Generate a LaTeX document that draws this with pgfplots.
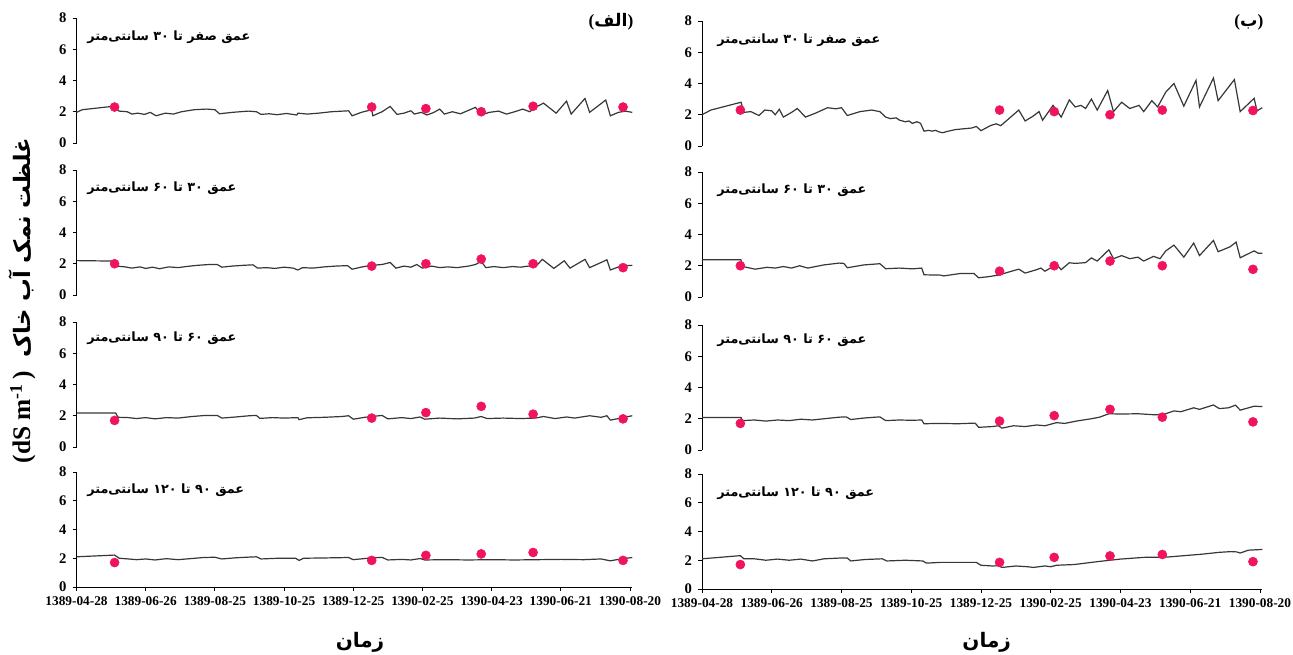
\documentclass[border=0pt]{standalone}
\usepackage{fontspec}
\setmainfont{Liberation Serif}
\newfontfamily\arabicfont[Script=Arabic]{DejaVu Sans}
\usepackage{pgfplots}
\pgfplotsset{compat=1.18}
\TeXXeTstate=1
\definecolor{simline}{RGB}{55,55,55}
\definecolor{obsdot}{RGB}{240,20,95}

\pgfplotsset{
  panel/.style={
    scale only axis,
    anchor=south west,
    xmin=0, xmax=482, ymin=0, ymax=8,
    ytick={0,2,4,6,8},
    axis y line*=left,
    tick align=outside,
    major tick length=3pt,
    every tick/.style={black, line width=0.6pt},
    axis line style={black, line width=0.7pt},
    /pgf/number format/assume math mode=true,
    yticklabel style={font=\bfseries\fontsize{11}{12}\selectfont, xshift=-1pt},
    clip=false,
  },
  toppanel/.style={
    panel,
    axis x line=none,
  },
  bottompanel/.style={
    panel,
    axis x line*=bottom,
    xtick={0,60,120,180,240,300,360,420,480},
    xticklabels={1389-04-28,1389-06-26,1389-08-25,1389-10-25,1389-12-25,1390-02-25,1390-04-23,1390-06-21,1390-08-20},
    xticklabel style={font=\bfseries\fontsize{10}{12}\selectfont, yshift=-1pt},
  },
  sim/.style={color=simline, line width=0.9pt, no marks},
  obs/.style={only marks, mark=*, mark size=3.4pt, color=obsdot, mark options={draw=obsdot, fill=obsdot}},
}

\begin{document}
\begin{tikzpicture}
\path[use as bounding box] (0pt,0pt) rectangle (969.75pt,491.25pt);

% ---------------- Left column (الف) ----------------
\begin{axis}[toppanel, at={(57.4pt,384pt)}, width=416.8pt, height=93.75pt]
\addplot[sim] coordinates {
(0,1.96)(5,2.13)(32,2.35)(37,2.04)(44,2.0)(48,1.85)(53,1.91)(59,1.83)(64,1.96)(69,1.74)
(77,1.91)(84,1.85)(91,2.0)(102,2.13)(113,2.17)(120,2.13)(124,1.87)(135,1.96)(149,2.04)(156,2.0)
(160,1.83)(167,1.87)(174,1.81)(182,1.89)(191,1.79)(192,1.91)(200,1.85)(210,1.91)(221,2.0)(236,2.06)
(239,1.74)(247,1.96)(256,2.13)(257,1.74)(265,2.0)(272,2.34)(278,1.83)(284,1.91)(290,2.06)(293,1.85)
(299,1.96)(304,1.79)(310,1.96)(315,2.17)(319,1.85)(326,2.0)(333,1.87)(339,2.06)(346,2.28)(351,1.79)
(358,1.96)(366,2.04)(373,1.85)(380,2.0)(387,2.17)(393,2.0)(398,2.28)(405,2.55)(416,1.91)(425,2.68)
(429,1.85)(441,2.85)(445,1.96)(459,2.75)(463,1.74)(470,1.96)(476,2.04)(482,1.96)};
\addplot[obs] coordinates {(33,2.3)(256,2.3)(303,2.2)(351,2.0)(396,2.35)(474,2.3)};
\end{axis}

\begin{axis}[toppanel, at={(57.4pt,270pt)}, width=416.8pt, height=93.75pt]
\addplot[sim] coordinates {
(0,2.2)(33,2.17)(35,1.85)(42,1.8)(48,1.72)(55,1.8)(60,1.7)(66,1.78)(72,1.68)(80,1.8)
(88,1.75)(95,1.82)(105,1.9)(115,1.95)(122,1.95)(126,1.78)(135,1.85)(145,1.9)(153,1.93)(157,1.72)
(165,1.75)(172,1.7)(180,1.78)(188,1.72)(192,1.6)(196,1.75)(205,1.72)(215,1.8)(225,1.85)(235,1.88)
(239,1.65)(248,1.8)(256,1.9)(265,1.95)(272,2.08)(277,1.72)(284,1.85)(290,1.78)(295,1.95)(300,1.72)
(308,1.85)(315,1.75)(322,1.8)(330,1.75)(340,1.85)(346,1.95)(351,2.15)(355,1.75)(362,1.82)(370,1.75)
(378,1.82)(385,1.78)(392,1.85)(398,1.8)(404,2.28)(414,1.7)(423,2.19)(428,1.72)(441,2.28)(445,1.75)
(460,2.25)(463,1.6)(472,1.85)(482,1.9)};
\addplot[obs] coordinates {(33,2.0)(256,1.85)(303,2.0)(351,2.3)(396,2.0)(474,1.75)};
\end{axis}

\begin{axis}[toppanel, at={(57.4pt,156pt)}, width=416.8pt, height=93.75pt]
\addplot[sim] coordinates {
(0,2.17)(34,2.17)(36,1.9)(45,1.88)(52,1.82)(60,1.88)(68,1.8)(78,1.88)(88,1.85)(100,1.95)
(112,2.02)(122,2.02)(126,1.85)(138,1.92)(150,2.0)(156,2.02)(159,1.83)(170,1.88)(180,1.85)(192,1.88)
(193,1.75)(200,1.87)(215,1.9)(230,1.95)(236,2.0)(240,1.78)(250,1.9)(265,2.02)(270,1.8)(282,1.88)
(290,1.82)(298,1.92)(302,1.78)(315,1.85)(330,1.8)(345,1.85)(351,1.95)(356,1.82)(370,1.85)(385,1.82)
(398,1.85)(405,1.95)(415,1.82)(425,1.92)(432,1.85)(445,2.0)(455,1.9)(460,2.0)(463,1.72)(472,1.85)
(482,2.0)};
\addplot[obs] coordinates {(33,1.7)(256,1.85)(303,2.2)(351,2.6)(396,2.1)(474,1.8)};
\end{axis}

\begin{axis}[bottompanel, at={(57.4pt,51pt)}, width=416.8pt, height=86.25pt]
\addplot[sim] coordinates {
(0,2.1)(33,2.22)(37,2.0)(45,1.95)(52,1.9)(60,1.95)(68,1.88)(78,1.97)(88,1.9)(100,1.98)
(110,2.05)(120,2.07)(126,1.95)(138,2.03)(150,2.08)(156,2.1)(160,1.95)(175,2.0)(190,2.0)(193,1.85)
(197,2.0)(215,2.02)(236,2.05)(240,1.9)(255,2.02)(265,2.06)(270,1.88)(282,1.92)(290,1.88)(298,1.98)
(302,1.88)(320,1.9)(340,1.88)(360,1.9)(380,1.88)(400,1.9)(420,1.92)(440,1.9)(455,1.95)(463,1.82)
(472,1.95)(482,2.05)};
\addplot[obs] coordinates {(33,1.7)(256,1.85)(303,2.2)(351,2.3)(396,2.4)(474,1.85)};
\end{axis}

% ---------------- Right column (ب) ----------------
\begin{axis}[toppanel, at={(526.5pt,381.75pt)}, width=420.2pt, height=93.75pt]
\addplot[sim] coordinates {
(0,2.0)(7.6,2.3)(33.6,2.8)(36,2.15)(42,2.2)(49,1.95)(54,2.3)(60,2.25)(63,2.0)(66.5,2.35)
(70,1.85)(77,2.15)(82,2.4)(89,1.85)(97.6,2.1)(108,2.45)(115,2.38)(120,2.45)(125,1.95)(136,2.2)
(146,2.3)(153,2.2)(158,1.85)(162,1.75)(167,1.8)(170,1.65)(175,1.55)(178,1.6)(181,1.45)(185,1.55)
(188,1.45)(191,0.95)(195,1.0)(198,0.95)(201,1.0)(204,0.9)(207,0.85)(212,0.95)(218,1.05)(225,1.1)
(232,1.15)(236,1.25)(240,0.98)(248,1.3)(253,1.42)(257,1.3)(264,1.75)(272.5,2.3)(278,1.6)(284.6,1.9)
(290,2.2)(293,1.65)(302,2.6)(309,1.85)(316,2.95)(321,2.5)(326,2.6)(330,2.4)(335,3.0)(340,2.3)
(349,3.55)(354,2.2)(361,2.8)(368,2.4)(376,2.6)(380,2.2)(387,2.9)(392,2.5)(399,3.45)(406,4.0)
(414.5,2.55)(425,4.2)(428,2.5)(440,4.35)(444,2.9)(458,4.25)(463,2.2)(475,3.05)(477.5,2.25)(482,2.45)};
\addplot[obs] coordinates {(33,2.3)(256,2.3)(303,2.2)(351,2.0)(396,2.3)(474,2.27)};
\end{axis}

\begin{axis}[toppanel, at={(526.5pt,268.5pt)}, width=420.2pt, height=93.75pt]
\addplot[sim] coordinates {
(0,2.38)(33.5,2.38)(35,1.95)(45.7,1.78)(56,1.9)(63,1.85)(70,1.95)(77,1.85)(84,2.0)(91,1.85)
(104.6,2.05)(118,2.17)(122,2.15)(125,1.87)(139,2.05)(153,2.13)(158,1.81)(170,1.85)(181,1.8)(189,1.85)
(191,1.42)(205,1.4)(208,1.35)(222,1.5)(234,1.5)(238,1.23)(246.5,1.3)(255,1.4)(264,1.6)(272.5,1.78)
(278,1.53)(288,1.75)(291.5,1.85)(295,1.65)(305,2.08)(309,1.75)(316,2.19)(321,2.15)(330,2.2)(335,2.5)
(340,2.3)(350,3.02)(354,2.45)(361,2.65)(368,2.45)(375,2.55)(380,2.3)(388.5,2.6)(394,2.45)(399,2.95)
(406,3.32)(414.5,2.55)(423,3.45)(428,2.65)(440,3.62)(444,2.9)(454,3.2)(459.5,3.51)(463,2.51)(475,2.95)
(478.5,2.8)(482,2.8)};
\addplot[obs] coordinates {(33,2.0)(256,1.65)(303,2.0)(351,2.3)(396,2.0)(474,1.77)};
\end{axis}

\begin{axis}[toppanel, at={(526.5pt,153.75pt)}, width=420.2pt, height=93.75pt]
\addplot[sim] coordinates {
(0,2.08)(33.5,2.08)(35,1.88)(45,1.92)(55,1.85)(65,1.92)(75,1.88)(85,1.97)(95,1.92)(105,2.0)
(118,2.1)(124,2.12)(128,1.95)(140,2.05)(153,2.12)(158,1.88)(170,1.92)(180,1.9)(189,1.92)(191,1.68)
(205,1.7)(220,1.68)(235,1.72)(238,1.45)(250,1.5)(255,1.55)(258,1.4)(268,1.55)(278,1.5)(288,1.6)
(295,1.55)(305,1.75)(312,1.7)(322,1.85)(335,2.0)(342,2.1)(350,2.32)(360,2.3)(375,2.32)(390,2.25)
(398,2.3)(406,2.5)(412,2.45)(423,2.7)(428,2.6)(440,2.88)(445,2.65)(453,2.7)(459,2.87)(463,2.55)
(475,2.8)(482,2.78)};
\addplot[obs] coordinates {(33,1.7)(256,1.85)(303,2.2)(351,2.6)(396,2.1)(474,1.8)};
\end{axis}

\begin{axis}[bottompanel, at={(526.5pt,49.5pt)}, width=420.2pt, height=86.25pt]
\addplot[sim] coordinates {
(0,2.1)(33,2.32)(36,2.1)(45,2.1)(55,2.0)(65,2.08)(75,2.0)(85,2.08)(95,1.95)(105,2.1)
(118,2.15)(125,2.15)(128,1.95)(140,2.05)(155,2.1)(159,1.95)(175,2.0)(190,1.95)(193,1.8)(205,1.85)
(220,1.85)(236,1.85)(240,1.65)(250,1.6)(255,1.62)(258,1.5)(270,1.6)(280,1.55)(285,1.5)(295,1.6)
(300,1.55)(305,1.65)(320,1.7)(340,1.9)(360,2.08)(380,2.2)(400,2.22)(415,2.32)(430,2.42)(445,2.55)
(455,2.6)(460,2.58)(463,2.5)(470,2.7)(482,2.75)};
\addplot[obs] coordinates {(33,1.7)(256,1.85)(303,2.2)(351,2.3)(396,2.4)(474,1.9)};
\end{axis}

% ---------------- Texts ----------------
\newcommand{\plabel}{\arabicfont\bfseries\fontsize{9.6}{11}\selectfont}
\node[anchor=west, font=\plabel] at (62pt,463.5pt) {\beginR عمق صفر تا ۳۰ سانتی‌متر\endR};
\node[anchor=west, font=\plabel] at (62pt,350.25pt) {\beginR عمق ۳۰ تا ۶۰ سانتی‌متر\endR};
\node[anchor=west, font=\plabel] at (62pt,237.75pt) {\beginR عمق ۶۰ تا ۹۰ سانتی‌متر\endR};
\node[anchor=west, font=\plabel] at (62pt,123.75pt) {\beginR عمق ۹۰ تا ۱۲۰ سانتی‌متر\endR};
\node[anchor=west, font=\plabel] at (534.5pt,461.25pt) {\beginR عمق صفر تا ۳۰ سانتی‌متر\endR};
\node[anchor=west, font=\plabel] at (534.5pt,348.75pt) {\beginR عمق ۳۰ تا ۶۰ سانتی‌متر\endR};
\node[anchor=west, font=\plabel] at (534.5pt,236.25pt) {\beginR عمق ۶۰ تا ۹۰ سانتی‌متر\endR};
\node[anchor=west, font=\plabel] at (534.5pt,121.5pt) {\beginR عمق ۹۰ تا ۱۲۰ سانتی‌متر\endR};

\node[anchor=east, font=\bfseries\fontsize{13}{15}\selectfont] at (478.5pt,474.75pt) {({\arabicfont\beginR الف\endR})};
\node[anchor=east, font=\bfseries\fontsize{13}{15}\selectfont] at (951pt,474.75pt) {({\arabicfont\beginR ب\endR})};

\node[font=\arabicfont\bfseries\fontsize{15}{18}\selectfont] at (270pt,9.75pt) {\beginR زمان\endR};
\node[font=\arabicfont\bfseries\fontsize{15}{18}\selectfont] at (740pt,9.75pt) {\beginR زمان\endR};

\node[rotate=90] at (16.5pt,266pt)
  {{\bfseries\fontsize{19}{22}\selectfont (dS m\textsuperscript{-1}\,)}\quad{\arabicfont\bfseries\fontsize{17}{20}\selectfont\beginR غلظت نمک آب خاک\endR}};
\end{tikzpicture}
\end{document}
